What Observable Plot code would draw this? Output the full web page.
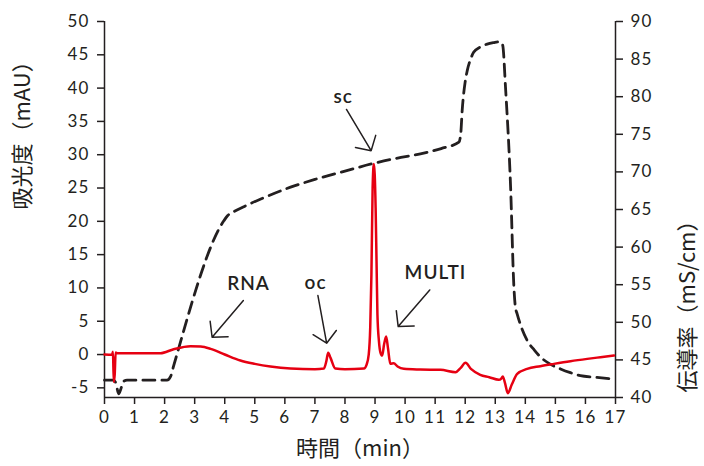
<!DOCTYPE html>
<html>
<head>
<meta charset="utf-8">
<script src="https://cdn.jsdelivr.net/npm/d3@7"></script>
<script src="https://cdn.jsdelivr.net/npm/@observablehq/plot@0.6"></script>
<style>
  body { margin: 0; background: #fff; }
  g[aria-label="x-axis tick label"] text,
  g[aria-label="y-axis tick label"] text { letter-spacing: 1.2px; }
</style>
</head>
<body>
<div id="chart"></div>
<script>
// ---- Data ----
const xTicks = [0,1,2,3,4,5,6,7,8,9,10,11,12,13,14,15,16,17];
const absTicks = [-5,0,5,10,15,20,25,30,35,40,45,50];
const condTicks = [40,45,50,55,60,65,70,75,80,85,90];

// Absorbance (mAU), red line
const absTime = [0, 0.25, 0.28, 0.31, 0.34, 0.37, 0.42, 1.0, 1.86, 2.3, 2.86, 3.2, 3.53, 4.0, 4.52, 5.0, 5.52, 6.19, 7.0, 7.3, 7.38, 7.44, 7.52, 7.68, 8.0, 8.63, 8.72, 8.79, 8.84, 8.88, 8.92, 8.96, 8.99, 9.02, 9.05, 9.08, 9.13, 9.18, 9.24, 9.30, 9.37, 9.43, 9.51, 9.62, 9.75, 9.96, 10.5, 11.18, 11.68, 11.85, 12.01, 12.2, 12.5, 12.8, 13.12, 13.2, 13.25, 13.32, 13.42, 13.55, 13.73, 14.06, 14.5, 14.95, 15.5, 16.06, 16.5, 16.95];
const absValue = [0, -0.05, 0.4, -4.1, -3.0, 0.3, 0.2, 0.2, 0.2, 0.8, 1.25, 1.2, 0.85, 0.0, -0.9, -1.4, -1.8, -2.1, -2.2, -2.1, -1.0, 0.25, -0.5, -2.1, -2.2, -2.1, -1.5, 0.0, 4, 12, 25, 28.6, 27, 22, 14, 6, 2, 0.3, -0.15, 1.5, 2.7, 1.0, -1.4, -1.3, -1.8, -2.15, -2.25, -2.3, -2.65, -2.0, -1.25, -2.2, -3.05, -3.4, -3.8, -3.6, -3.3, -4.2, -5.8, -4.5, -2.9, -2.15, -1.75, -1.4, -1.0, -0.65, -0.4, -0.15];

// Conductivity (mS/cm), black dashed line
const condTime = [0, 0.3, 0.38, 0.47, 0.55, 0.62, 0.75, 1.5, 2.08, 2.2, 2.3, 3.97, 4.1, 4.3, 4.7, 5.2, 6.19, 7.0, 8.0, 8.92, 9.7, 10.51, 11.2, 11.79, 11.85, 11.9, 12.0, 12.07, 12.18, 12.28, 12.5, 12.73, 12.95, 13.12, 13.2, 13.25, 13.34, 13.51, 13.62, 13.67, 13.73, 13.9, 14.06, 14.3, 14.5, 14.8, 15.17, 15.5, 15.83, 16.3, 16.78];
const condValue = [42.3, 42.3, 41.9, 40.5, 41.2, 42.1, 42.3, 42.3, 42.3, 42.8, 44.2, 63.5, 64.2, 64.7, 65.5, 66.4, 67.97, 69.0, 70.1, 71.1, 71.8, 72.4, 73.1, 73.95, 75.0, 78.2, 82.0, 83.5, 85.0, 85.9, 86.6, 87.0, 87.2, 87.3, 87.2, 86.8, 81.3, 68.0, 54.7, 52.0, 51.1, 49.0, 47.6, 46.3, 45.4, 44.5, 43.8, 43.3, 42.9, 42.7, 42.5];

// Annotations
const annoLabel = ["RNA", "oc", "sc", "MULTI"];
const annoTextX = [4.79, 7.02, 7.94, 11.01];
const annoTextY = [10.6, 10.7, 38.7, 12.3];
const arrowFromX = [4.62, 7.10, 8.05, 10.82];
const arrowFromY = [8.1, 8.85, 36.8, 9.7];
const arrowToX = [3.58, 7.39, 8.87, 9.77];
const arrowToY = [2.6, 1.7, 30.6, 4.2];

// ---- Scales / derived tables ----
const absDomain = [-6.45, 50];
const condDomain = [40, 90];
const toAbs = d3.scaleLinear().domain(condDomain).range(absDomain);

const absData = absTime.map((t, i) => ({t, v: absValue[i]}));
const condData = condTime.map((t, i) => ({t, v: condValue[i]}));
const annos = annoLabel.map((label, i) => ({
  label, x: annoTextX[i], y: annoTextY[i],
  x1: arrowFromX[i], y1: arrowFromY[i], x2: arrowToX[i], y2: arrowToY[i]
}));

const ink = "#231f20";
const red = "#e60012";
const cjk = "'Noto Sans CJK JP', sans-serif";

const chart = Plot.plot({
  width: 704,
  height: 466,
  marginLeft: 104,
  marginRight: 89,
  marginTop: 21,
  marginBottom: 69,
  x: {domain: [0, 17]},
  y: {domain: absDomain},
  style: {fontFamily: "Lato, sans-serif", fontSize: "17px", color: ink, background: "#fff"},
  marks: [
    Plot.ruleX([0, 17], {stroke: ink, strokeWidth: 1.5}),
    Plot.ruleY([absDomain[0]], {stroke: ink, strokeWidth: 1.5}),
    Plot.axisX(xTicks, {tickSize: 7, tickPadding: 6, label: null, strokeWidth: 1.5, tickFormat: d => String(d)}),
    Plot.axisY(absTicks, {anchor: "left", tickSize: 7, tickPadding: 8, label: null, strokeWidth: 1.5, tickFormat: d => String(d)}),
    Plot.axisY(condTicks.map(c => toAbs(c)), {anchor: "right", tickSize: 7, tickPadding: 8, label: null, strokeWidth: 1.5, tickFormat: d => String(Math.round(toAbs.invert(d)))}),
    Plot.line(condData, {x: "t", y: d => toAbs(d.v), stroke: ink, strokeWidth: 2.8, strokeDasharray: "12,7", curve: "monotone-x"}),
    Plot.line(absData, {x: "t", y: "v", stroke: red, strokeWidth: 2.5, curve: "monotone-x"}),
    Plot.arrow(annos, {x1: "x1", y1: "y1", x2: "x2", y2: "y2", stroke: ink, strokeWidth: 1.5, headLength: 16, headAngle: 95}),
    Plot.text(annos, {x: "x", y: "y", text: "label", fill: ink, fontSize: 19, fontWeight: 600}),
    Plot.text(["吸光度（mAU）"], {frameAnchor: "left", dx: -82, rotate: -90, fontSize: 22, fontFamily: cjk, fill: ink}),
    Plot.text(["伝導率（mS/cm）"], {frameAnchor: "right", dx: 72, rotate: -90, fontSize: 22, fontFamily: cjk, fill: ink}),
    Plot.text(["時間（min）"], {frameAnchor: "bottom", dy: 58, fontSize: 22, fontFamily: cjk, fill: ink})
  ]
});
d3.select(chart).selectAll("text")
  .filter(function () { return annoLabel.includes(this.textContent); })
  .attr("letter-spacing", "1px");
document.getElementById("chart").appendChild(chart);
</script>
</body>
</html>
